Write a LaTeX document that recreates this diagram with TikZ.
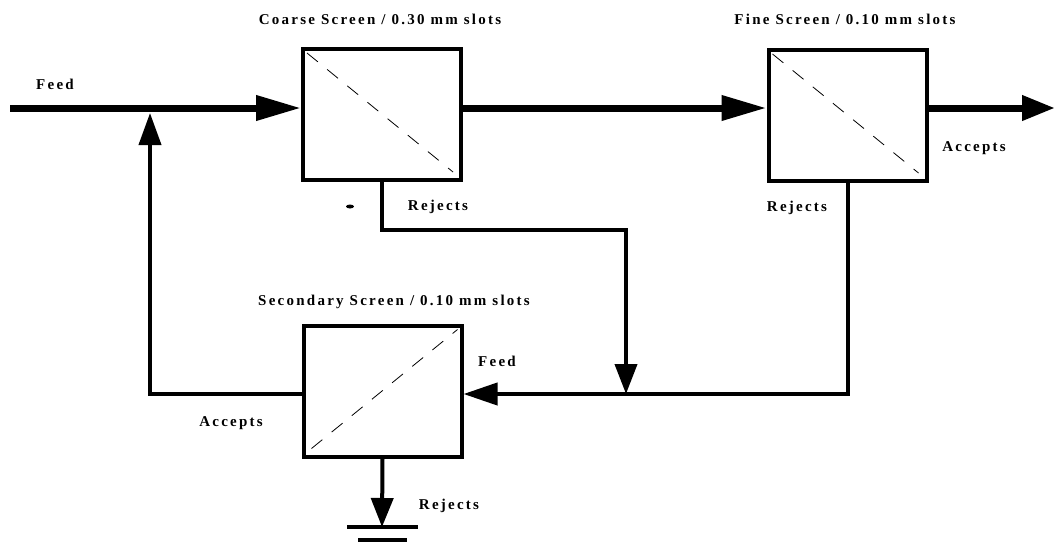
\documentclass[tikz,border=0pt]{standalone}
\usepackage{fontspec}
\setmainfont{Liberation Serif}
\newfontfamily\labfont[LetterSpace=15]{Liberation Serif}
\usetikzlibrary{arrows.meta}
\begin{document}
\begin{tikzpicture}[x=1pt,y=-1pt,
  box/.style={draw, line width=4pt, minimum width=158pt, minimum height=131pt, inner sep=0pt},
  lab/.style={font=\labfont\bfseries\fontsize{15}{17}\selectfont, inner sep=0pt},
  mainarrow/.style={line width=7pt, -{Triangle[length=45pt,width=24pt]}},
  conn/.style={line width=4pt},
  tipb/.style={-{Triangle[length=30pt,width=22pt]}},
  diag/.style={line width=0.8pt, dash pattern=on 14pt off 12pt}]
\useasboundingbox (0,0) rectangle (1055,547);
% boxes
\node[box] (coarse) at (382,114.5) {};
\node[box] (fine) at (847.5,115.5) {};
\node[box] (sec) at (382.5,391) {};
\draw[diag] ([shift={(6,6)}]coarse.north west) -- ([shift={(-10,-10)}]coarse.south east);
\draw[diag] ([shift={(6,6)}]fine.north west) -- ([shift={(-10,-10)}]fine.south east);
\draw[diag] ([shift={(10,-10)}]sec.south west) -- ([shift={(-6,6)}]sec.north east);
% titles
\node[lab] (tcoarse) at (380,19) {Coarse Screen / 0.30 mm slots};
\node[lab] (tfine) at (845,19) {Fine Screen / 0.10 mm slots};
\node[lab] (tsec) at (394,302) {Secondary Screen / 0.10 mm slots};
% coordinates
\coordinate (feedin) at (10,108);
\coordinate (outend) at (1055,108);
\coordinate (junc) at (626,394);
\coordinate (accup) at (150,113);
\coordinate (gnd) at (382,527);
% main line
\draw[mainarrow] (feedin) -- (coarse.west |- feedin);
\draw[mainarrow] (coarse.east |- feedin) -- (fine.west |- feedin);
\draw[line width=7pt, -{Triangle[length=33pt,width=24pt]}] (fine.east |- feedin) -- (outend);
% coarse rejects
\draw[conn, tipb] (coarse.south) -- ++(0,48) -| (junc);
% fine rejects
\draw[conn, -{Triangle[length=34pt,width=22pt]}] (fine.south) |- (sec.east |- junc);
% secondary accepts
\draw[conn, -{Triangle[length=32pt,width=22pt]}] (sec.west |- junc) -| (accup);
% secondary rejects
\draw[conn, -{Triangle[length=29pt,width=22pt]}] (sec.south) -- (gnd);
\draw[line width=4pt] (347,527) -- (418,527);
\draw[line width=4pt] (358,540) -- (407,540);
% small mark
\fill (350,206.5) ellipse (4 and 2);
% labels
\node[lab] (lfeed) at (55,84) {Feed};
\node[lab] (lrej1) at (438,207) {Rejects};
\node[lab] (lrej2) at (797,208) {Rejects};
\node[lab] (lacc1) at (974,148) {Accepts};
\node[lab] (lfeed2) at (497,361) {Feed};
\node[lab] (lacc2) at (231,423) {Accepts};
\node[lab] (lrej3) at (449,506) {Rejects};
\end{tikzpicture}
\end{document}
